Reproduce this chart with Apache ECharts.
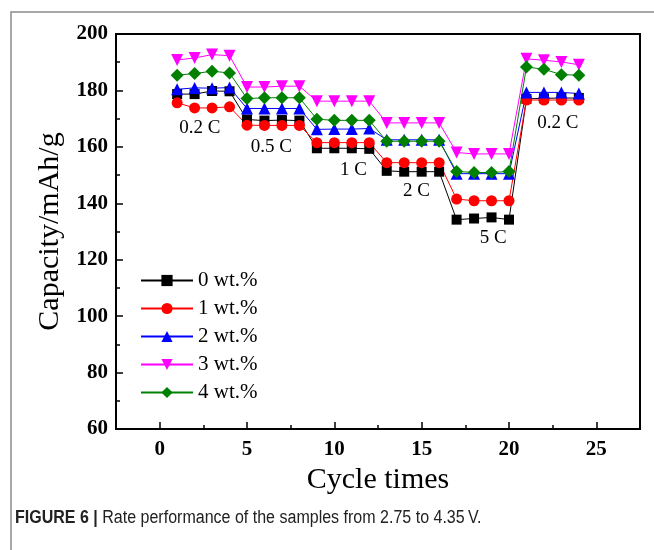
<!DOCTYPE html>
<html>
<head>
<meta charset="utf-8">
<script src="https://cdn.jsdelivr.net/npm/echarts@6/dist/echarts.min.js"></script>
<style>
  html, body { margin: 0; padding: 0; background: #fff; }
  #rateChart { width: 654px; height: 550px; }
</style>
</head>
<body>
<div id="rateChart"></div>
<script>
// cycle number on the x axis
let cycles = [1, 2, 3, 4, 5, 6, 7, 8, 9, 10, 11, 12, 13, 14, 15, 16, 17, 18, 19, 20, 21, 22, 23, 24];
// capacities (mAh/g)
let wt0 = [178.7, 178.7, 179.8, 179.7, 169.7, 169.3, 169.5, 169.3, 159.5, 159.5, 159.5, 159.3, 151.5, 151.2, 151.2, 151.2, 134.2, 134.6, 135.0, 134.2, 177.0, 177.2, 177.3, 177.3];
let wt1 = [175.6, 173.8, 173.8, 174.2, 167.7, 167.6, 167.6, 167.6, 161.5, 161.5, 161.5, 161.5, 154.4, 154.4, 154.4, 154.4, 141.5, 140.9, 140.9, 140.9, 176.6, 176.6, 176.6, 176.6];
let wt2 = [180.4, 180.9, 180.8, 181.0, 173.6, 173.6, 173.6, 173.6, 166.2, 166.3, 166.3, 166.5, 162.5, 162.5, 162.5, 162.5, 150.5, 150.5, 150.5, 150.5, 179.3, 179.3, 179.3, 178.9];
let wt3 = [190.8, 191.5, 192.7, 192.3, 181.2, 181.2, 181.5, 181.5, 176.2, 176.2, 176.2, 176.2, 168.5, 168.5, 168.5, 168.5, 158.0, 157.5, 157.5, 157.5, 191.2, 190.7, 190.1, 189.1];
let wt4 = [185.4, 186.0, 186.8, 186.2, 177.1, 177.4, 177.4, 177.4, 169.8, 169.4, 169.4, 169.4, 162.0, 162.0, 162.0, 162.0, 151.3, 150.9, 150.9, 151.3, 188.3, 187.5, 185.6, 185.4];
let seriesNames = ['0 wt.%', '1 wt.%', '2 wt.%', '3 wt.%', '4 wt.%'];
// rate labels: [cycle, capacity, text]
let rateLabels = [[2.3, 166.7, '0.2 C'], [6.4, 160.1, '0.5 C'], [11.1, 151.9, '1 C'], [14.7, 144.2, '2 C'], [19.1, 127.8, '5 C'], [22.8, 168.3, '0.2 C']];
let xMajorTicks = [0, 5, 10, 15, 20, 25];

let chart = echarts.init(document.getElementById('rateChart'));
let serif = 'Liberation Serif';

function makeLine(name, values, color, symbol, size, rotate) {
  return {
    name: name,
    type: 'line',
    data: cycles.map((c, i) => [c, values[i]]),
    symbol: symbol,
    symbolSize: size,
    symbolRotate: rotate || 0,
    color: color,
    lineStyle: { color: color, width: 1 },
    itemStyle: { color: color },
    emphasis: { disabled: true }
  };
}

let option = {
  animation: false,
  backgroundColor: '#fff',
  grid: {
    left: 116, right: 14, top: 34, bottom: 121,
    show: true, borderColor: '#000', borderWidth: 2
  },
  legend: {
    data: seriesNames,
    orient: 'vertical',
    left: 135,
    top: 265,
    itemWidth: 52,
    itemHeight: 14,
    itemGap: 7,
    textStyle: { fontFamily: serif, fontSize: 21, color: '#000' }
  },
  xAxis: [
    {
      type: 'value',
      min: -2.5, max: 27.5, interval: 2.5,
      name: 'Cycle times',
      nameLocation: 'middle',
      nameGap: 32,
      nameTextStyle: { fontFamily: serif, fontSize: 30, color: '#000' },
      axisLine: { onZero: false, lineStyle: { color: '#000', width: 2 } },
      axisTick: { inside: true, length: 4, lineStyle: { color: '#000', width: 1.5 } },
      axisLabel: {
        margin: 10,
        fontFamily: serif, fontWeight: 'bold', fontSize: 21, color: '#000',
        formatter: v => (v % 5 === 0 && v >= 0 && v <= 25 ? String(v) : '')
      },
      splitLine: { show: false }
    },
    {
      type: 'value',
      position: 'bottom',
      min: -2.5, max: 27.5,
      axisLine: { show: false, onZero: false },
      axisTick: { inside: true, length: 7, customValues: xMajorTicks, lineStyle: { color: '#000', width: 1.5 } },
      axisLabel: { show: false },
      splitLine: { show: false }
    }
  ],
  yAxis: {
    type: 'value',
    min: 60, max: 200, interval: 20,
    name: 'Capacity/mAh/g',
    nameLocation: 'middle',
    nameGap: 50,
    nameTextStyle: { fontFamily: serif, fontSize: 30, color: '#000' },
    axisLine: { show: true, onZero: false, lineStyle: { color: '#000', width: 2 } },
    axisTick: { inside: true, length: 7, lineStyle: { color: '#000', width: 1.5 } },
    minorTick: { show: true, splitNumber: 2, length: 4, lineStyle: { color: '#000', width: 1.5 } },
    axisLabel: { margin: 8, fontFamily: serif, fontWeight: 'bold', fontSize: 21, color: '#000' },
    splitLine: { show: false }
  },
  series: [
    makeLine(seriesNames[0], wt0, '#000000', 'rect', 10),
    makeLine(seriesNames[1], wt1, '#ff0000', 'circle', 11),
    makeLine(seriesNames[2], wt2, '#0000ff', 'triangle', 12),
    makeLine(seriesNames[3], wt3, '#ff00ff', 'triangle', 12, 180),
    makeLine(seriesNames[4], wt4, '#008000', 'diamond', 13),
    {
      name: 'rates',
      type: 'scatter',
      symbol: 'circle',
      symbolSize: 1,
      itemStyle: { color: '#fff', opacity: 1 },
      data: rateLabels,
      label: {
        show: true,
        position: 'inside',
        formatter: p => p.data[2],
        fontFamily: serif, fontSize: 19, color: '#000',
        opacity: 1, textBorderWidth: 0
      },
      emphasis: { disabled: true },
      silent: true,
      z: 5
    }
  ],
  graphic: [
    {
      type: 'rect',
      shape: { x: 11, y: 12, width: 700, height: 600 },
      style: { fill: 'none', stroke: '#8c8c8c', lineWidth: 1.5 },
      silent: true
    },
    {
      type: 'text',
      x: 15,
      y: 509,
      scaleX: 0.89,
      style: {
        rich: {
          b: { fontFamily: 'Liberation Sans', fontWeight: 'bold', fontSize: 18, fill: '#222' },
          n: { fontFamily: 'Liberation Sans', fontSize: 18, fill: '#222' }
        },
        text: '{b|FIGURE 6 |}{n| Rate performance of the samples from 2.75 to 4.35\u2009V.}'
      }
    }
  ]
};

chart.setOption(option);
</script>
</body>
</html>
